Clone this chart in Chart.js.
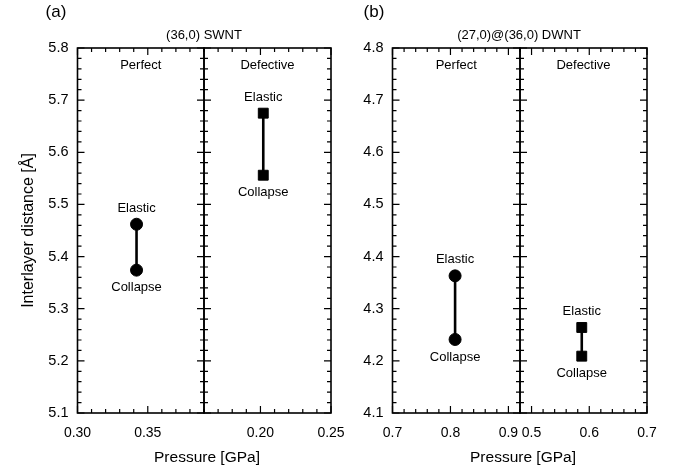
<!DOCTYPE html>
<html>
<head>
<meta charset="utf-8">
<script src="https://cdn.jsdelivr.net/npm/chart.js@4/dist/chart.umd.min.js"></script>
<style>
  body { margin: 0; background: #fff; font-family: "Liberation Sans", Arial, sans-serif; color: #000; }
  #wrap { position: relative; width: 678px; height: 470px; overflow: hidden; }
  canvas { position: absolute; left: 0; top: 0; }
  .t { position: absolute; white-space: nowrap; transform: translate(-50%, -50%); }
</style>
</head>
<body>
<div id="wrap">
  <canvas id="aPerfect" width="678" height="470"></canvas>
  <canvas id="aDefective" width="678" height="470"></canvas>
  <canvas id="bPerfect" width="678" height="470"></canvas>
  <canvas id="bDefective" width="678" height="470"></canvas>
  <div class="t" style="left:56px;top:12px;font-size:17px">(a)</div>
  <div class="t" style="left:374px;top:12px;font-size:17px">(b)</div>
  <div class="t" style="left:204px;top:34px;font-size:13px">(36,0) SWNT</div>
  <div class="t" style="left:519px;top:34px;font-size:13px">(27,0)@(36,0) DWNT</div>
  <div class="t" style="left:207px;top:457px;font-size:15.5px">Pressure [GPa]</div>
  <div class="t" style="left:523px;top:457px;font-size:15.5px">Pressure [GPa]</div>
</div>
<script>
// sub-panels, left to right inside each figure
const panelNames = ['Perfect', 'Defective'];
const stateLabels = ['Elastic', 'Collapse'];

// (a) (36,0) SWNT
const swntPressure = [0.342, 0.202];
const swntElastic = [5.462, 5.675];
const swntCollapse = [5.374, 5.556];
const swntXRange = [[0.30, 0.39], [0.16, 0.25]];
const swntYRange = [5.1, 5.8];

// (b) (27,0)@(36,0) DWNT
const dwntPressure = [0.808, 0.587];
const dwntElastic = [4.363, 4.264];
const dwntCollapse = [4.241, 4.209];
const dwntXRange = [[0.70, 0.92], [0.48, 0.70]];
const dwntYRange = [4.1, 4.8];

const FONT = '"Liberation Sans", Arial, sans-serif';

function eachTick(min, max, minor, major, fn) {
  const n0 = Math.ceil(min / minor - 1e-6);
  const n1 = Math.floor(max / minor + 1e-6);
  for (let n = n0; n <= n1; n++) {
    const v = n * minor;
    const r = v / major;
    fn(v, Math.abs(r - Math.round(r)) < 1e-6);
  }
}

// box, inward ticks on all four sides, panel name and point labels
const framePlugin = {
  id: 'frame',
  afterDatasetsDraw(chart, args, o) {
    const { ctx, chartArea: a, scales: { x, y } } = chart;
    ctx.save();
    ctx.strokeStyle = '#000';
    ctx.lineWidth = 1.6;
    ctx.strokeRect(a.left, a.top, a.right - a.left, a.bottom - a.top);
    ctx.lineWidth = 1.2;
    ctx.beginPath();
    eachTick(x.min, x.max, o.xMinor, o.xMajor, (v, major) => {
      const px = x.getPixelForValue(v), len = major ? 7 : 4;
      ctx.moveTo(px, a.bottom); ctx.lineTo(px, a.bottom - len);
      ctx.moveTo(px, a.top); ctx.lineTo(px, a.top + len);
    });
    eachTick(y.min, y.max, 0.02, 0.1, (v, major) => {
      const py = y.getPixelForValue(v), len = major ? 7 : 4;
      ctx.moveTo(a.left, py); ctx.lineTo(a.left + len, py);
      ctx.moveTo(a.right, py); ctx.lineTo(a.right - len, py);
    });
    ctx.stroke();

    ctx.fillStyle = '#000';
    ctx.font = '13px ' + FONT;
    ctx.textAlign = 'center';
    ctx.textBaseline = 'middle';
    ctx.fillText(o.name, (a.left + a.right) / 2, a.top + 17);
    chart.data.datasets[0].data.forEach((p, i) => {
      const px = x.getPixelForValue(p.x), py = y.getPixelForValue(p.y);
      ctx.fillText(stateLabels[i], px, i === 0 ? py - 16 : py + 17.5);
    });
    ctx.restore();
  }
};

function makePanel(id, opt) {
  const showY = opt.yWidth > 0;
  new Chart(document.getElementById(id), {
    type: 'scatter',
    data: {
      datasets: [{
        data: [
          { x: opt.pressure, y: opt.elastic },
          { x: opt.pressure, y: opt.collapse }
        ],
        showLine: true,
        borderColor: '#000',
        borderWidth: 2.6,
        backgroundColor: '#000',
        pointStyle: opt.marker,
        pointRadius: opt.marker === 'rect' ? 7 : 6,
        pointBorderWidth: 1,
        pointBackgroundColor: '#000',
        pointBorderColor: '#000'
      }]
    },
    options: {
      responsive: false,
      animation: false,
      events: [],
      layout: {
        padding: { left: opt.left - opt.yWidth, right: 678 - opt.right, top: 48, bottom: 17 }
      },
      plugins: {
        legend: { display: false },
        tooltip: { enabled: false },
        frame: { name: opt.name, xMinor: opt.xMinor, xMajor: opt.xMajor }
      },
      scales: {
        x: {
          type: 'linear',
          min: opt.xRange[0],
          max: opt.xRange[1],
          afterFit: s => { s.height = 40; },
          grid: { display: false, drawTicks: false, tickLength: 0 },
          border: { display: false },
          ticks: {
            stepSize: opt.xStep,
            includeBounds: false,
            maxRotation: 0,
            autoSkip: false,
            padding: 12,
            color: '#000',
            font: { family: FONT, size: 14 },
            callback: v => v.toFixed(opt.xDigits)
          }
        },
        y: {
          type: 'linear',
          display: showY,
          min: opt.yRange[0],
          max: opt.yRange[1],
          afterFit: s => { s.width = opt.yWidth; },
          grid: { display: false, drawTicks: false, tickLength: 0 },
          border: { display: false },
          title: {
            display: !!opt.yTitle,
            text: opt.yTitle || '',
            color: '#000',
            font: { family: FONT, size: 16 },
            padding: { top: 19, bottom: 0 }
          },
          ticks: {
            stepSize: 0.1,
            padding: 9,
            color: '#000',
            font: { family: FONT, size: 14.5 },
            callback: v => v.toFixed(1)
          }
        }
      }
    },
    plugins: [framePlugin]
  });
}

makePanel('aPerfect', {
  name: panelNames[0], left: 77.5, right: 204, yWidth: 77.5, yTitle: 'Interlayer distance [Å]',
  xRange: swntXRange[0], yRange: swntYRange, xStep: 0.05, xMinor: 0.01, xMajor: 0.05, xDigits: 2,
  pressure: swntPressure[0], elastic: swntElastic[0], collapse: swntCollapse[0], marker: 'circle'
});
makePanel('aDefective', {
  name: panelNames[1], left: 204, right: 331, yWidth: 0,
  xRange: swntXRange[1], yRange: swntYRange, xStep: 0.05, xMinor: 0.01, xMajor: 0.05, xDigits: 2,
  pressure: swntPressure[1], elastic: swntElastic[1], collapse: swntCollapse[1], marker: 'rect'
});
makePanel('bPerfect', {
  name: panelNames[0], left: 392.5, right: 520, yWidth: 40,
  xRange: dwntXRange[0], yRange: dwntYRange, xStep: 0.1, xMinor: 0.02, xMajor: 0.1, xDigits: 1,
  pressure: dwntPressure[0], elastic: dwntElastic[0], collapse: dwntCollapse[0], marker: 'circle'
});
makePanel('bDefective', {
  name: panelNames[1], left: 520, right: 647, yWidth: 0,
  xRange: dwntXRange[1], yRange: dwntYRange, xStep: 0.1, xMinor: 0.02, xMajor: 0.1, xDigits: 1,
  pressure: dwntPressure[1], elastic: dwntElastic[1], collapse: dwntCollapse[1], marker: 'rect'
});
</script>
</body>
</html>
